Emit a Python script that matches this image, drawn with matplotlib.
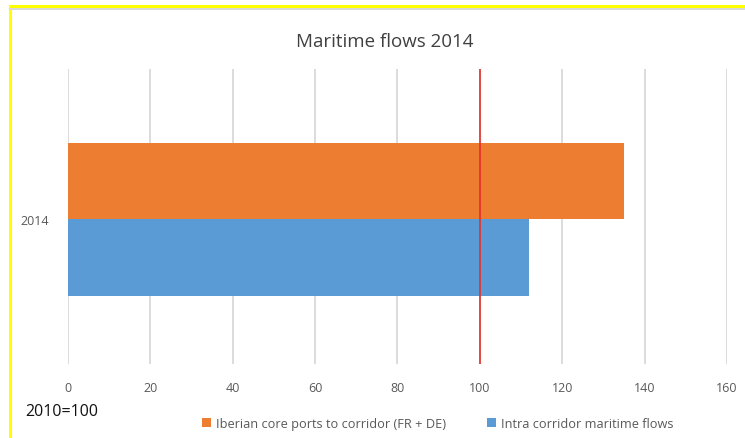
import matplotlib.pyplot as plt
from matplotlib.lines import Line2D

years = ["2014"]
series_names = ["Iberian core ports to corridor (FR + DE)", "Intra corridor maritime flows"]
iberian = [135]
intra = [112]
ref_value = 100
xticks = [0, 20, 40, 60, 80, 100, 120, 140, 160]

plt.rcParams['font.family'] = ['Open Sans', 'DejaVu Sans']

fig = plt.figure(figsize=(7.45, 4.39), dpi=100)
ax = fig.add_axes([0.0913, 0.1686, 0.8845, 0.6719])

h = 0.26
ax.barh([0 + h / 2], iberian, height=h, color='#ED7D31', label=series_names[0], zorder=2)
ax.barh([0 - h / 2], intra, height=h, color='#5B9BD5', label=series_names[1], zorder=2)
ax.axvline(ref_value, color='#E8302A', linewidth=1.2, zorder=3)

ax.set_xlim(0, 160)
ax.set_ylim(-0.49, 0.51)
ax.set_xticks(xticks)
ax.set_yticks([0])
ax.set_yticklabels(years)
ax.grid(axis='x', color='#d9d9d9', linewidth=1.3, zorder=0)
ax.set_axisbelow(True)
for s in ax.spines.values():
    s.set_visible(False)
ax.tick_params(axis='both', length=0, colors='#595959', labelsize=9)
ax.tick_params(axis='x', pad=12)
ax.tick_params(axis='y', pad=14)

fig.text(0.517, 0.905, "Maritime flows 2014", ha='center', va='center', fontsize=13.5, color='#404040')
fig.text(0.034, 0.061, "2010=100", ha='left', va='center', fontsize=11.5, color='#111111')

handles, labels = ax.get_legend_handles_labels()
fig.legend(handles, labels, loc='center', bbox_to_anchor=(0.588, 0.034), ncol=2, frameon=False,
           fontsize=9.2, handlelength=0.7, handleheight=0.7, columnspacing=3.2, handletextpad=0.4,
           labelcolor='#595959')

# yellow frame around the chart (left and top), with grey shadow
fig.add_artist(Line2D([0.0135, 0.0135], [0, 0.984], color='#FFFF00', linewidth=2.2, transform=fig.transFigure))
fig.add_artist(Line2D([0.0135, 1.0], [0.978, 0.978], color='#d9d9d9', linewidth=1.5, transform=fig.transFigure))
fig.add_artist(Line2D([0.0135, 1.0], [0.984, 0.984], color='#FFFF00', linewidth=2.2, transform=fig.transFigure))

fig.savefig('out.png', dpi=100)
